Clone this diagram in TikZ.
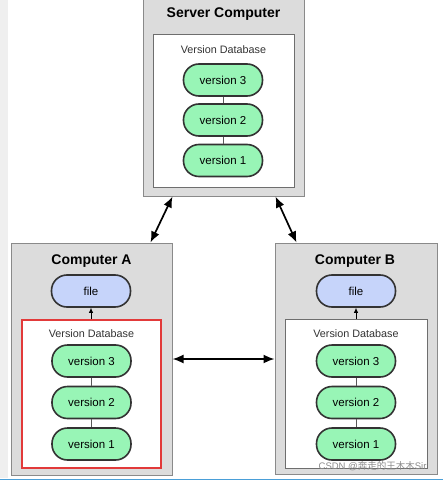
\documentclass[tikz,border=0pt]{standalone}
\usepackage{fontspec}
\setmainfont{Liberation Sans}
\newfontfamily\cjk{Noto Sans CJK SC}
\usetikzlibrary{arrows.meta}
\definecolor{boxgray}{HTML}{DCDCDC}
\definecolor{boxedge}{HTML}{8A8A8A}
\definecolor{innedge}{HTML}{6E6E6E}
\definecolor{pillgreen}{HTML}{98F5B6}
\definecolor{pillblue}{HTML}{C6D4FA}
\definecolor{pilledge}{HTML}{333333}
\definecolor{redframe}{HTML}{E23A3A}
\definecolor{stripgray}{HTML}{EFEFEF}
\definecolor{bluebar}{HTML}{4A9FD8}
\tikzset{
  outerbox/.style={draw=boxedge, fill=boxgray, line width=1pt, inner sep=0pt},
  innerbox/.style={draw=innedge, fill=white, line width=0.8pt, inner sep=0pt},
  pill/.style={draw=pilledge, line width=1.6pt, rounded corners=15.5pt, minimum width=79pt, minimum height=32pt, inner sep=0pt, font=\fontsize{11.5}{13}\selectfont},
  verpill/.style={pill, fill=pillgreen},
  filepill/.style={pill, fill=pillblue},
  title/.style={font=\fontsize{14}{16}\selectfont\bfseries},
  dblabel/.style={font=\fontsize{10.8}{12}\selectfont, text=black!80},
  link/.style={draw=black!65, line width=0.8pt},
  bigarrow/.style={line width=1.7pt, {Latex[length=11pt,width=9pt]}-{Latex[length=11pt,width=9pt]}},
  uparrow/.style={line width=0.8pt, -{Latex[length=5pt,width=4.5pt]}},
}
\begin{document}
\begin{tikzpicture}[x=1pt,y=-1pt]
\useasboundingbox (0,0) rectangle (443,481);
\clip (0,0) rectangle (443,481);
\fill[stripgray] (0,0) rectangle (8,478);

% Server
\node[outerbox, minimum width=161pt, minimum height=206pt] (srv) at (223.5,93) {};
\node[title] (srvt) at (223.5,14) {Server Computer};
\node[innerbox, minimum width=141pt, minimum height=153pt] (srvdb) at (223.5,110.5) {};
\node[dblabel] (srvdbl) at (223.5,50) {Version Database};
\node[verpill] (s3) at (223,80) {version 3};
\node[verpill] (s2) at (223,120) {version 2};
\node[verpill] (s1) at (223,160.5) {version 1};
\draw[link] (s3) -- (s2);
\draw[link] (s2) -- (s1);

% Computer A
\node[outerbox, minimum width=161pt, minimum height=232pt] (ca) at (91.5,359) {};
\node[title] (cat) at (91.5,261) {Computer A};
\node[filepill] (fa) at (91,291) {file};
\node[innerbox, draw=redframe, line width=1.3pt, minimum width=139pt, minimum height=148pt] (adb) at (91.5,394) {};
\node[dblabel] (adbl) at (91.5,333.5) {Version Database};
\node[verpill] (a3) at (91.5,361) {version 3};
\node[verpill] (a2) at (91.5,402.5) {version 2};
\node[verpill] (a1) at (91.5,444) {version 1};
\draw[link] (a3) -- (a2);
\draw[link] (a2) -- (a1);
\draw[uparrow] (adb.north -| fa.south) -- (fa.south);

% Computer B
\node[outerbox, minimum width=162pt, minimum height=231pt] (cb) at (356,358.5) {};
\node[title] (cbt) at (355,261) {Computer B};
\node[filepill] (fb) at (356,291) {file};
\node[innerbox, minimum width=142pt, minimum height=149pt] (bdb) at (356,393.5) {};
\node[dblabel] (bdbl) at (356,333.5) {Version Database};
\node[verpill] (b3) at (356,361) {version 3};
\node[verpill] (b2) at (356,402.5) {version 2};
\node[verpill] (b1) at (356,444) {version 1};
\draw[link] (b3) -- (b2);
\draw[link] (b2) -- (b1);
\draw[uparrow] (bdb.north -| fb.south) -- (fb.south);

% Arrows between computers
\coordinate (sl) at ([xshift=30pt]srv.south west);
\coordinate (sr) at ([xshift=-29pt]srv.south east);
\coordinate (at) at ([xshift=-22pt]ca.north east);
\coordinate (bt) at ([xshift=22pt]cb.north west);
\draw[bigarrow] (sl) -- (at);
\draw[bigarrow] (sr) -- (bt);
\draw[bigarrow] (ca.east) -- (cb.west |- ca.east);

% watermark
\node[font=\fontsize{9.5}{11}\selectfont, text=black!45, anchor=east] (wm) at (430,466) {CSDN @{\cjk 奔走的王木木}Sir};

% bottom bar
\draw[bluebar, line width=1.6pt] (0,479.5) -- (443,479.5);
\end{tikzpicture}
\end{document}
